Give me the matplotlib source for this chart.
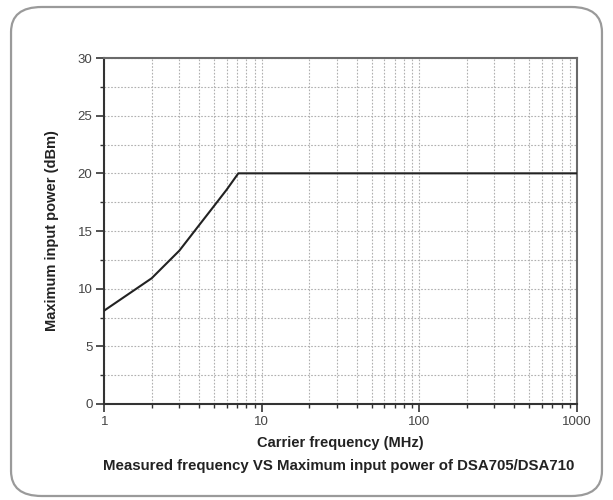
import numpy as np
import matplotlib
matplotlib.use("Agg")
import matplotlib.pyplot as plt
from matplotlib.patches import FancyBboxPatch
from matplotlib.ticker import FixedLocator, NullFormatter

plt.rcParams['font.family'] = ['Liberation Sans', 'DejaVu Sans']

# carrier frequency (MHz) vs maximum input power (dBm)
freq = [1, 2, 3, 4, 5, 6, 7.1, 1000]
power = [8.1, 10.9, 13.3, 15.5, 17.2, 18.6, 20.0, 20.0]

x_ticks = [1, 10, 100, 1000]
x_ticklabels = ["1", "10", "100", "1000"]
y_ticks = [0, 5, 10, 15, 20, 25, 30]

fig = plt.figure(figsize=(6.13, 5.0), dpi=100)

# rounded frame around the whole figure
frame = FancyBboxPatch((0.018, 0.008), 0.964, 0.978,
                       boxstyle="round,pad=0,rounding_size=0.05",
                       transform=fig.transFigure, facecolor="none",
                       edgecolor="#9a9a9a", linewidth=1.6, zorder=-10)
fig.patches.append(frame)

ax = fig.add_axes([0.170, 0.192, 0.771, 0.692])
ax.set_facecolor("white")
ax.plot(freq, power, color="#222222", linewidth=1.5, zorder=3)

ax.set_xscale("log")
ax.set_xlim(1, 1000)
ax.set_ylim(0, 30)
ax.set_xticks(x_ticks)
ax.set_xticklabels(x_ticklabels)
ax.xaxis.set_minor_locator(FixedLocator([m * d for d in (1, 10, 100) for m in range(2, 10)]))
ax.xaxis.set_minor_formatter(NullFormatter())
ax.set_yticks(y_ticks)
ax.yaxis.set_minor_locator(FixedLocator(np.arange(2.5, 30, 5)))

ax.grid(True, which="both", linestyle=(0, (1.5, 1.5)), color="#b0b0b0", linewidth=0.8)
ax.set_axisbelow(True)

for side in ["left", "bottom"]:
    ax.spines[side].set_color("#333333")
    ax.spines[side].set_linewidth(1.5)
for side in ["top", "right"]:
    ax.spines[side].set_color("#6a6a6a")
    ax.spines[side].set_linewidth(1.5)

ax.tick_params(which="major", direction="out", length=5.5, width=1.2, color="#333333",
               labelsize=9.5, labelcolor="#444444", pad=3)
ax.tick_params(which="minor", direction="out", length=3, width=1.0, color="#333333")

ax.set_xlabel("Carrier frequency (MHz)", fontsize=10.5, fontweight="bold",
              color="#222222", labelpad=6)
ax.set_ylabel("Maximum input power (dBm)", fontsize=10.5, fontweight="bold",
              color="#222222", labelpad=13)

fig.text(0.552, 0.068, "Measured frequency VS Maximum input power of DSA705/DSA710",
         ha="center", va="center", fontsize=10.8, fontweight="bold", color="#222222")

fig.savefig("out.png", dpi=100)
